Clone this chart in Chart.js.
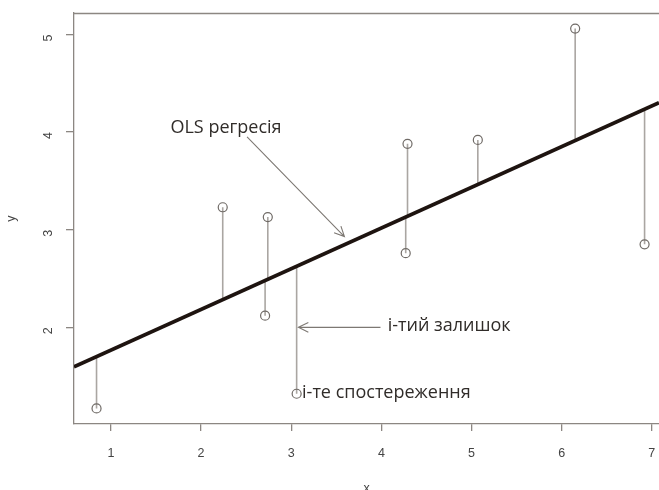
<!DOCTYPE html>
<html>
<head>
<meta charset="utf-8">
<script src="https://cdn.jsdelivr.net/npm/chart.js@4.4.1/dist/chart.umd.min.js"></script>
<style>
  html, body { margin: 0; padding: 0; background: #fff; }
  #wrap { width: 659px; height: 490px; }
</style>
</head>
<body>
<div id="wrap"><canvas id="olsChart" width="659" height="490"></canvas></div>
<script>
// observations
var xObs = [0.84, 2.24, 2.71, 2.74, 3.06, 4.27, 4.29, 5.07, 6.15, 6.92];
var yObs = [1.17, 3.23, 2.12, 3.13, 1.32, 2.76, 3.88, 3.92, 5.06, 2.85];

// fitted OLS line y = a + b*x
var olsIntercept = 1.349;
var olsSlope = 0.417;

var xTicks = [1, 2, 3, 4, 5, 6, 7];
var yTicks = [2, 3, 4, 5];
var xRange = [0.59, 7.08];
var yRange = [1.01, 5.22];

var frameColor = '#8c8782';

function fitted(x) { return olsIntercept + olsSlope * x; }

var pointData = xObs.map(function (x, i) { return { x: x, y: yObs[i] }; });

// vertical residual segments, broken by null
var residData = [];
xObs.forEach(function (x, i) {
    residData.push({ x: x, y: yObs[i] });
    residData.push({ x: x, y: fitted(x) });
    residData.push({ x: x, y: null });
});

var lineData = xRange.map(function (x) { return { x: x, y: fitted(x) }; });

// text notes with arrows, in data units
var notes = [
    { text: 'OLS регресія', x: 1.66, y: 4.04, from: [2.51, 3.95], to: [3.59, 2.93] },
    { text: 'і-тий залишок', x: 4.07, y: 2.02, from: [3.99, 2.0], to: [3.08, 2.0] },
    { text: 'і-те спостереження', x: 3.12, y: 1.33 }
];

function arrow(ctx, x1, y1, x2, y2) {
    var ang = Math.atan2(y2 - y1, x2 - x1);
    var len = 11, spread = 0.45;
    ctx.beginPath();
    ctx.moveTo(x1, y1);
    ctx.lineTo(x2, y2);
    ctx.moveTo(x2 - len * Math.cos(ang - spread), y2 - len * Math.sin(ang - spread));
    ctx.lineTo(x2, y2);
    ctx.lineTo(x2 - len * Math.cos(ang + spread), y2 - len * Math.sin(ang + spread));
    ctx.stroke();
}

var notesPlugin = {
    id: 'notes',
    afterDraw: function (chart) {
        var ctx = chart.ctx, xs = chart.scales.x, ys = chart.scales.y, a = chart.chartArea;
        ctx.save();
        // top border of the box
        ctx.strokeStyle = frameColor;
        ctx.lineWidth = 1.3;
        ctx.beginPath();
        ctx.moveTo(a.left, a.top + 0.5);
        ctx.lineTo(a.right, a.top + 0.5);
        ctx.stroke();

        ctx.font = '18px "Open Sans"';
        ctx.textBaseline = 'middle';
        ctx.textAlign = 'left';
        notes.forEach(function (n) {
            ctx.fillStyle = '#302c29';
            ctx.fillText(n.text, xs.getPixelForValue(n.x), ys.getPixelForValue(n.y));
            if (n.from) {
                ctx.strokeStyle = '#7d7873';
                ctx.lineWidth = 1.1;
                arrow(ctx, xs.getPixelForValue(n.from[0]), ys.getPixelForValue(n.from[1]),
                    xs.getPixelForValue(n.to[0]), ys.getPixelForValue(n.to[1]));
            }
        });
        ctx.restore();
    }
};

var ctx = document.getElementById('olsChart').getContext('2d');
var olsChart = new Chart(ctx, {
    type: 'scatter',
    data: {
        datasets: [{
            type: 'line',
            label: 'OLS',
            data: lineData,
            borderColor: '#1e1410',
            borderWidth: 3.8,
            pointRadius: 0,
            order: 1
        }, {
            type: 'line',
            label: 'residuals',
            data: residData,
            borderColor: '#aaa6a2',
            borderWidth: 1.6,
            pointRadius: 0,
            spanGaps: false,
            order: 3
        }, {
            label: 'observations',
            data: pointData,
            pointStyle: 'circle',
            pointRadius: 4.5,
            pointBorderWidth: 1.2,
            borderColor: '#6f6a66',
            backgroundColor: 'rgba(255,255,255,0)',
            order: 2
        }]
    },
    options: {
        responsive: false,
        animation: false,
        layout: { autoPadding: false, padding: { top: 13, right: 0, left: 0, bottom: 0 } },
        plugins: {
            legend: { display: false },
            tooltip: { enabled: false }
        },
        scales: {
            x: {
                type: 'linear',
                min: xRange[0],
                max: xRange[1],
                afterBuildTicks: function (s) { s.ticks = xTicks.map(function (v) { return { value: v }; }); },
                afterFit: function (s) { s.height = 66; s.paddingLeft = 0; s.paddingRight = 0; },
                grid: { drawOnChartArea: false, drawTicks: true, tickLength: 7, color: frameColor, lineWidth: 1.3 },
                border: { color: frameColor, width: 1.3 },
                ticks: { color: '#444', font: { family: 'Liberation Sans', size: 12.5 }, padding: 15, maxRotation: 0 },
                title: { display: true, text: 'x', color: '#444', font: { family: 'Liberation Sans', size: 12.5 }, padding: { top: 0, bottom: -6 } }
            },
            y: {
                type: 'linear',
                min: yRange[0],
                max: yRange[1],
                afterBuildTicks: function (s) { s.ticks = yTicks.map(function (v) { return { value: v }; }); },
                afterFit: function (s) { s.width = 74; s.paddingTop = 0; s.paddingBottom = 0; },
                grid: { drawOnChartArea: false, drawTicks: true, tickLength: 8, color: frameColor, lineWidth: 1.3 },
                border: { color: frameColor, width: 1.3 },
                ticks: { color: '#444', font: { family: 'Liberation Sans', size: 12.5 }, padding: 17, minRotation: 90, maxRotation: 90 },
                title: { display: true, text: 'y', color: '#444', font: { family: 'Liberation Sans', size: 12.5 }, padding: { top: 4, bottom: 0 } }
            }
        }
    },
    plugins: [notesPlugin]
});
</script>
</body>
</html>
